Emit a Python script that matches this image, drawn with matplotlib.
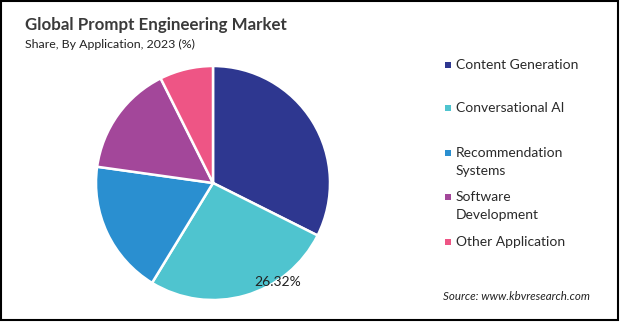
import matplotlib
matplotlib.use("Agg")
import matplotlib.pyplot as plt
from matplotlib.patches import Rectangle

plt.rcParams["font.family"] = ["Lato", "DejaVu Sans"]

categories = ["Content Generation", "Conversational AI", "Recommendation\nSystems",
              "Software\nDevelopment", "Other Application"]
shares = [32.40, 26.32, 18.50, 15.40, 7.38]
colors = ["#2E3790", "#4FC4CF", "#2A8FD0", "#A3479A", "#EE5585"]
labelled = 1  # only Conversational AI carries a value label

W, H = 620, 322
fig = plt.figure(figsize=(W / 100, H / 100), dpi=100)
fig.patch.set_facecolor("white")

# pie: center (213, 183) px, radius 117 px
cx, cy, r = 213, 183, 117
ax = fig.add_axes([(cx - r) / W, (H - cy - r) / H, 2 * r / W, 2 * r / H])
ax.pie(shares, colors=colors, startangle=90, counterclock=False,
       wedgeprops=dict(edgecolor="white", linewidth=1.8))
ax.set_xlim(-1, 1)
ax.set_ylim(-1, 1)
ax.set_aspect("equal")
ax.axis("off")
ax.text(0.555, -0.85, f"{shares[labelled]:.2f}%", ha="center", va="center",
        fontsize=10, color="#222222")

# titles
fig.text(25 / W, 1 - 25 / H, "Global Prompt Engineering Market",
         fontsize=12.2, fontweight="bold", color="#3A3A3A", ha="left", va="center")
fig.text(25 / W, 1 - 44 / H, "Share, By Application, 2023 (%)",
         fontsize=8.9, color="#222222", ha="left", va="center")

# legend
leg_y = [65, 108, 162, 206, 242]
for name, col, y in zip(categories, colors, leg_y):
    nlines = name.count("\n") + 1
    y0 = y - (nlines - 1) * 9.5
    fig.add_artist(Rectangle(((448 - 3) / W, 1 - (y0 + 3) / H), 6 / W, 6 / H,
                             transform=fig.transFigure, facecolor=col,
                             edgecolor="none"))
    fig.text(456 / W, 1 - y / H, name, fontsize=10, color="#2A2A2A",
             ha="left", va="center", linespacing=1.6)

fig.text(443 / W, 1 - 296 / H, "Source: www.kbvresearch.com",
         fontsize=8.3, style="italic", color="#222222", ha="left", va="center")

# outer frame
fig.add_artist(Rectangle((1 / W, 2 / H), 617 / W, 319 / H, transform=fig.transFigure,
                         fill=False, edgecolor="black", linewidth=1.5))

fig.savefig("out.png", dpi=100, facecolor="white")
